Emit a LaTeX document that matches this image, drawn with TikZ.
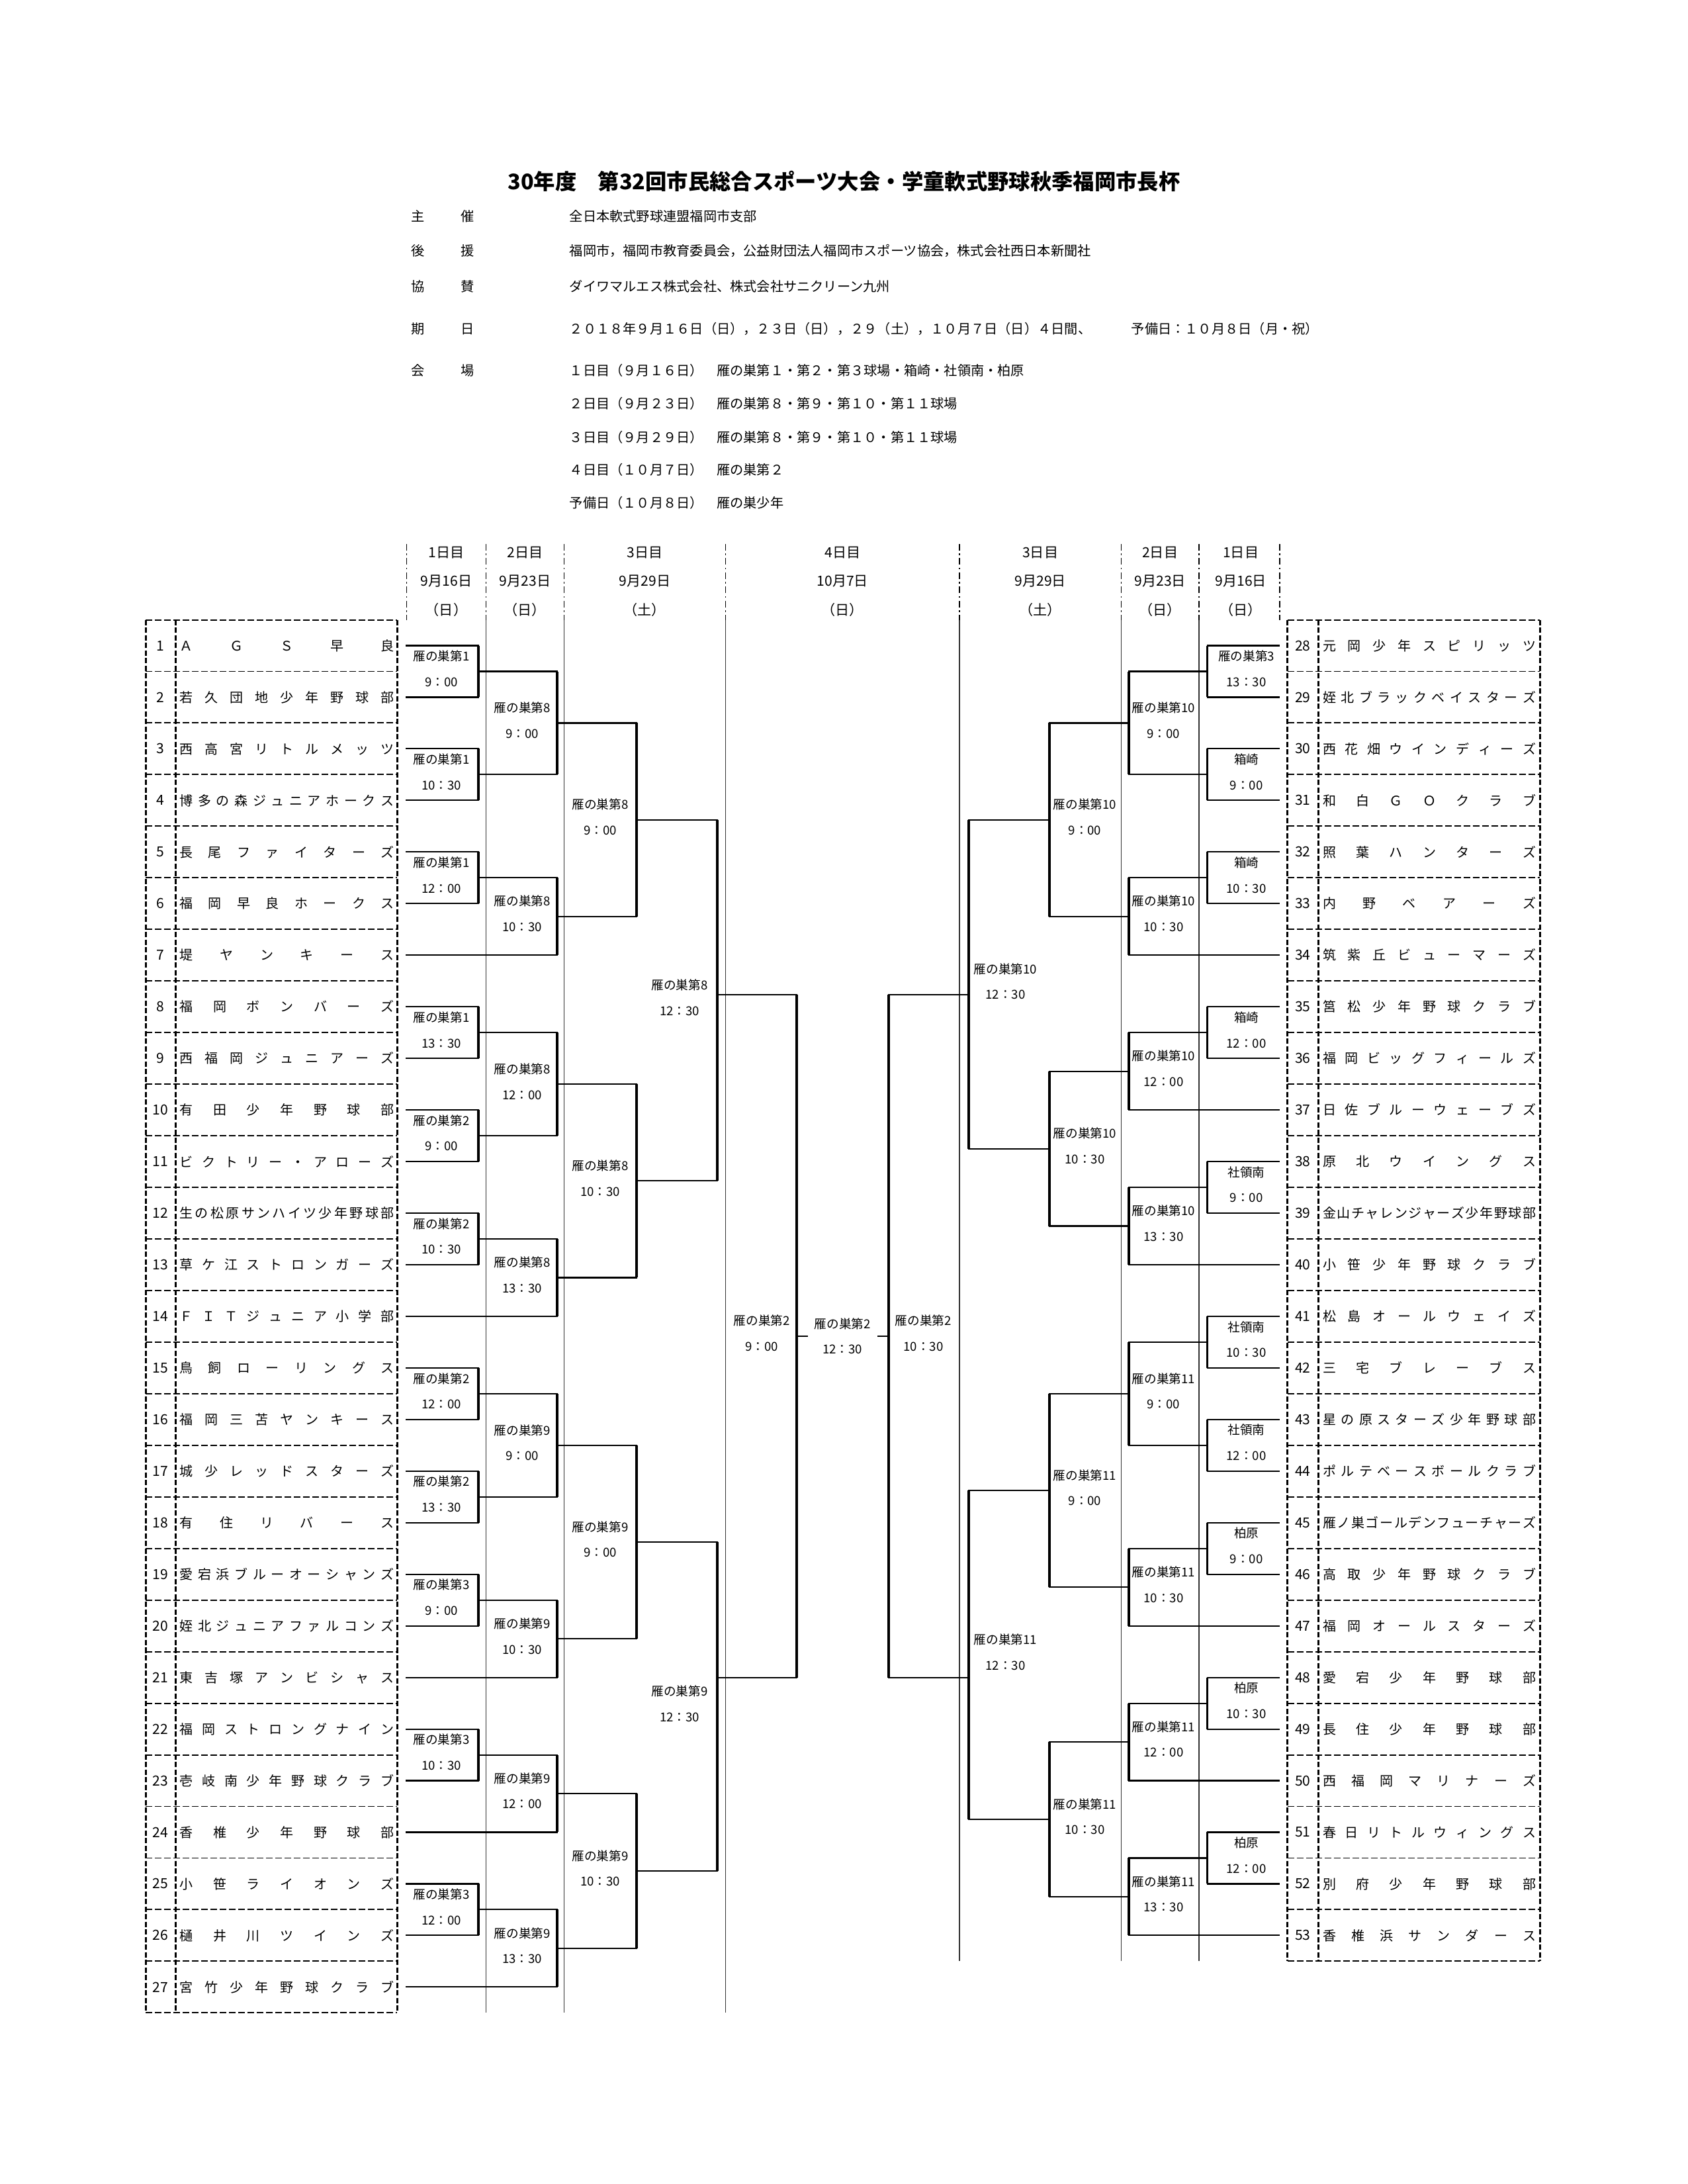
\documentclass[tikz,border=0pt]{standalone}
\usepackage{fontspec}
\setmainfont{Noto Sans CJK JP}
\usepackage{tikz}
\usetikzlibrary{calc}

\makeatletter
% spread a name over a fixed width, first and last character at the edges
\newcommand{\spreadname}[2]{%
  \edef\sp@tmp{#2}%
  \makebox[#1][s]{\expandafter\sp@loop\sp@tmp\@nil}}
\def\sp@loop#1{\ifx#1\@nil\unskip\else#1\hfil\expandafter\sp@loop\fi}
\makeatother

% one game: two feeders joined by a vertical, winner point in the middle
\newcommand{\game}[7]{%
  \draw[hline] (#1) -- (#1 -| #3) -- (#2 -| #3) -- (#2);
  \draw[vline] (#1 -| #3) -- (#2 -| #3);
  \coordinate (#4) at ($(#1 -| #3)!0.5!(#2 -| #3)$);
  \node[lbl] (#4-l) at ($(#4 -| #5)+(0,-2)$) {#6\\#7};}

\begin{document}
\begin{tikzpicture}[
    x=0.2104mm, y=-0.2104mm,
    hline/.style={line width=0.6pt},
    vline/.style={line width=1pt},
    divline/.style={line width=0.4pt, black!80},
    hdrline/.style={line width=0.4pt, dash pattern=on 1mm off 0.45mm on 0.25mm off 0.45mm},
    tblrow/.style={line width=0.55pt, dash pattern=on 1mm off 0.4mm},
    tblcol/.style={line width=0.8pt, dash pattern=on 0.8mm off 0.35mm},
    team/.style={inner sep=0pt, font=\fontsize{5.7}{6}\selectfont},
    num/.style={inner sep=0pt, font=\fontsize{6}{6}\selectfont},
    lbl/.style={inner sep=0pt, font=\fontsize{5.3}{11}\selectfont, align=center},
    day/.style={inner sep=0pt, font=\fontsize{6}{7}\selectfont},
    info/.style={inner sep=0pt, font=\fontsize{5.75}{7}\selectfont}
]
\path[use as bounding box, fill=white] (0,0) rectangle (1212,1568);

% Title
\node[inner sep=0pt, font=\fontsize{9.2}{11}\selectfont\bfseries] (title) at (606,130)
  {30年度　第32回市民総合スポーツ大会・学童軟式野球秋季福岡市長杯};

% Outline of the event
\foreach \i/\yy/\key/\txt in {
  1/155.2/主催/全日本軟式野球連盟福岡市支部,
  2/179.9/後援/福岡市，福岡市教育委員会，公益財団法人福岡市スポーツ協会，株式会社西日本新聞社,
  3/205.5/協賛/ダイワマルエス株式会社、株式会社サニクリーン九州,
  4/236.2/期日/２０１８年９月１６日（日），２３日（日），２９（土），１０月７日（日）４日間、　　　予備日：１０月８日（月・祝）,
  5/266.2/会場/１日目（９月１６日）　雁の巣第１・第２・第３球場・箱崎・社領南・柏原} {
  \node[info] (key\i) at (318,\yy) {\spreadname{9.47mm}{\key}};
  \node[info, anchor=west] (txt\i) at (408.7,\yy) {\txt};
}
\foreach \i/\yy/\txt in {
  6/289.7/２日目（９月２３日）　雁の巣第８・第９・第１０・第１１球場,
  7/313.8/３日目（９月２９日）　雁の巣第８・第９・第１０・第１１球場,
  8/337.3/４日目（１０月７日）　雁の巣第２,
  9/361.2/予備日（１０月８日）　雁の巣少年}
  \node[info, anchor=west] (txt\i) at (408.7,\yy) {\txt};

% Day columns (header)
\foreach \x in {292,349,405,521,689,805,861,919}
  \draw[hdrline] (\x,390.5) -- (\x,445);
\foreach \x in {349,405,521}
  \draw[divline] (\x,445) -- (\x,1445);
\foreach \x in {689,805,861}
  \draw[divline] (\x,445) -- (\x,1408);
\foreach \i/\x/\dnum/\ddate/\wkday in {1/320.5/1/9月16日/日, 2/377/2/9月23日/日, 3/463/3/9月29日/土,
    4/605/4/10月7日/日, 5/747/3/9月29日/土, 6/833/2/9月23日/日, 7/891/1/9月16日/日} {
  \node[day] (dn\i) at (\x,397) {\dnum 日目};
  \node[day] (dd\i) at (\x,417.3) {\ddate};
  \node[day] (dw\i) at (\x,438) {（\wkday）};
}

% Team tables (left 1-27, right 28-53)
\foreach \k in {0,...,27}
  \draw[tblrow] (104.6,{445+37.04*\k}) -- (285.2,{445+37.04*\k});
\foreach \x in {104.6,126,285.2}
  \draw[tblcol] (\x,445) -- (\x,1445);
\foreach \k in {0,...,26}
  \draw[tblrow] (924.4,{445+37.04*\k}) -- (1105.8,{445+37.04*\k});
\foreach \x in {924.4,946.6,1105.8}
  \draw[tblcol] (\x,445) -- (\x,1408);

\foreach \n/\tname in {1/ＡＧＳ早良, 2/若久団地少年野球部, 3/西高宮リトルメッツ,
    4/博多の森ジュニアホークス, 5/長尾ファイターズ, 6/福岡早良ホークス, 7/堤ヤンキース,
    8/福岡ボンバーズ, 9/西福岡ジュニアーズ, 10/有田少年野球部, 11/ビクトリー・アローズ,
    12/生の松原サンハイツ少年野球部, 13/草ケ江ストロンガーズ, 14/ＦＩＴジュニア小学部,
    15/鳥飼ローリングス, 16/福岡三苫ヤンキース, 17/城少レッドスターズ, 18/有住リバース,
    19/愛宕浜ブルーオーシャンズ, 20/姪北ジュニアファルコンズ, 21/東吉塚アンビシャス,
    22/福岡ストロングナイン, 23/壱岐南少年野球クラブ, 24/香椎少年野球部,
    25/小笹ライオンズ, 26/樋井川ツインズ, 27/宮竹少年野球クラブ} {
  \node[num] (no\n) at (115.3,{445+37.04*(\n-0.5)}) {\n};
  \node[team] (tn\n) at (206,{445+37.04*(\n-0.5)}) {\spreadname{32.4mm}{\tname}};
  \coordinate (a\n) at (291.5,{445+37.04*(\n-0.5)});
}
\foreach \n/\tname in {28/元岡少年スピリッツ, 29/姪北ブラックベイスターズ, 30/西花畑ウインディーズ,
    31/和白ＧＯクラブ, 32/照葉ハンターズ, 33/内野ベアーズ, 34/筑紫丘ビューマーズ,
    35/筥松少年野球クラブ, 36/福岡ビッグフィールズ, 37/日佐ブルーウェーブズ,
    38/原北ウイングス, 39/金山チャレンジャーズ少年野球部, 40/小笹少年野球クラブ,
    41/松島オールウェイズ, 42/三宅ブレーブス, 43/星の原スターズ少年野球部,
    44/ポルテベースボールクラブ, 45/雁ノ巣ゴールデンフューチャーズ, 46/高取少年野球クラブ,
    47/福岡オールスターズ, 48/愛宕少年野球部, 49/長住少年野球部, 50/西福岡マリナーズ,
    51/春日リトルウィングス, 52/別府少年野球部, 53/香椎浜サンダース} {
  \node[num] (no\n) at (935.5,{445+37.04*(\n-27.5)}) {\n};
  \node[team] (tn\n) at (1026.4,{445+37.04*(\n-27.5)}) {\spreadname{32.2mm}{\tname}};
  \coordinate (a\n) at (918.8,{445+37.04*(\n-27.5)});
}

% Bracket columns and label columns
\coordinate (cl1) at (343.5,0); \coordinate (cl2) at (400,0); \coordinate (cl3) at (457,0);
\coordinate (cl4) at (515,0); \coordinate (cl5) at (572,0);
\coordinate (cr1) at (867,0); \coordinate (cr2) at (810.5,0); \coordinate (cr3) at (753.5,0);
\coordinate (cr4) at (695.5,0); \coordinate (cr5) at (638,0);
\coordinate (ll1) at (317,0); \coordinate (ll2) at (375,0); \coordinate (ll3) at (431,0);
\coordinate (ll4) at (488,0); \coordinate (ll5) at (547,0);
\coordinate (lr1) at (895,0); \coordinate (lr2) at (835.5,0); \coordinate (lr3) at (779,0);
\coordinate (lr4) at (722,0); \coordinate (lr5) at (663,0);

% Left half, day 1
\game{a1}{a2}{cl1}{l1a}{ll1}{雁の巣第1}{9：00}
\game{a3}{a4}{cl1}{l1b}{ll1}{雁の巣第1}{10：30}
\game{a5}{a6}{cl1}{l1c}{ll1}{雁の巣第1}{12：00}
\game{a8}{a9}{cl1}{l1d}{ll1}{雁の巣第1}{13：30}
\game{a10}{a11}{cl1}{l1e}{ll1}{雁の巣第2}{9：00}
\game{a12}{a13}{cl1}{l1f}{ll1}{雁の巣第2}{10：30}
\game{a15}{a16}{cl1}{l1g}{ll1}{雁の巣第2}{12：00}
\game{a17}{a18}{cl1}{l1h}{ll1}{雁の巣第2}{13：30}
\game{a19}{a20}{cl1}{l1i}{ll1}{雁の巣第3}{9：00}
\game{a22}{a23}{cl1}{l1j}{ll1}{雁の巣第3}{10：30}
\game{a25}{a26}{cl1}{l1k}{ll1}{雁の巣第3}{12：00}
% Left half, day 2
\game{l1a}{l1b}{cl2}{l2a}{ll2}{雁の巣第8}{9：00}
\game{l1c}{a7}{cl2}{l2b}{ll2}{雁の巣第8}{10：30}
\game{l1d}{l1e}{cl2}{l2c}{ll2}{雁の巣第8}{12：00}
\game{l1f}{a14}{cl2}{l2d}{ll2}{雁の巣第8}{13：30}
\game{l1g}{l1h}{cl2}{l2e}{ll2}{雁の巣第9}{9：00}
\game{l1i}{a21}{cl2}{l2f}{ll2}{雁の巣第9}{10：30}
\game{l1j}{a24}{cl2}{l2g}{ll2}{雁の巣第9}{12：00}
\game{l1k}{a27}{cl2}{l2h}{ll2}{雁の巣第9}{13：30}
% Left half, day 3
\game{l2a}{l2b}{cl3}{l3a}{ll3}{雁の巣第8}{9：00}
\game{l2c}{l2d}{cl3}{l3b}{ll3}{雁の巣第8}{10：30}
\game{l2e}{l2f}{cl3}{l3c}{ll3}{雁の巣第9}{9：00}
\game{l2g}{l2h}{cl3}{l3d}{ll3}{雁の巣第9}{10：30}
\game{l3a}{l3b}{cl4}{l4a}{ll4}{雁の巣第8}{12：30}
\game{l3c}{l3d}{cl4}{l4b}{ll4}{雁の巣第9}{12：30}

% Right half, day 1
\game{a28}{a29}{cr1}{r1a}{lr1}{雁の巣第3}{13：30}
\game{a30}{a31}{cr1}{r1b}{lr1}{箱崎}{9：00}
\game{a32}{a33}{cr1}{r1c}{lr1}{箱崎}{10：30}
\game{a35}{a36}{cr1}{r1d}{lr1}{箱崎}{12：00}
\game{a38}{a39}{cr1}{r1e}{lr1}{社領南}{9：00}
\game{a41}{a42}{cr1}{r1f}{lr1}{社領南}{10：30}
\game{a43}{a44}{cr1}{r1g}{lr1}{社領南}{12：00}
\game{a45}{a46}{cr1}{r1h}{lr1}{柏原}{9：00}
\game{a48}{a49}{cr1}{r1i}{lr1}{柏原}{10：30}
\game{a51}{a52}{cr1}{r1j}{lr1}{柏原}{12：00}
% Right half, day 2
\game{r1a}{r1b}{cr2}{r2a}{lr2}{雁の巣第10}{9：00}
\game{r1c}{a34}{cr2}{r2b}{lr2}{雁の巣第10}{10：30}
\game{r1d}{a37}{cr2}{r2c}{lr2}{雁の巣第10}{12：00}
\game{r1e}{a40}{cr2}{r2d}{lr2}{雁の巣第10}{13：30}
\game{r1f}{r1g}{cr2}{r2e}{lr2}{雁の巣第11}{9：00}
\game{r1h}{a47}{cr2}{r2f}{lr2}{雁の巣第11}{10：30}
\game{r1i}{a50}{cr2}{r2g}{lr2}{雁の巣第11}{12：00}
\game{r1j}{a53}{cr2}{r2h}{lr2}{雁の巣第11}{13：30}
% Right half, day 3
\game{r2a}{r2b}{cr3}{r3a}{lr3}{雁の巣第10}{9：00}
\game{r2c}{r2d}{cr3}{r3b}{lr3}{雁の巣第10}{10：30}
\game{r2e}{r2f}{cr3}{r3c}{lr3}{雁の巣第11}{9：00}
\game{r2g}{r2h}{cr3}{r3d}{lr3}{雁の巣第11}{10：30}
\game{r3a}{r3b}{cr4}{r4a}{lr4}{雁の巣第10}{12：30}
\game{r3c}{r3d}{cr4}{r4b}{lr4}{雁の巣第11}{12：30}

% Day 4: semifinals and final
\coordinate (yTop) at (0,714); \coordinate (yBot) at (0,1204.3);
\coordinate (lsT) at (l4a |- yTop); \coordinate (lsB) at (l4b |- yBot);
\coordinate (rsT) at (r4a |- yTop); \coordinate (rsB) at (r4b |- yBot);
\game{lsT}{lsB}{cl5}{lsf}{ll5}{雁の巣第2}{9：00}
\game{rsT}{rsB}{cr5}{rsf}{lr5}{雁の巣第2}{10：30}
\node[lbl, minimum width=10.3mm] (fin) at ($(lsf)!0.5!(rsf)$) {雁の巣第2\\12：30};
\draw[hline] (lsf) -- (fin.west);
\draw[hline] (rsf) -- (fin.east);

\end{tikzpicture}
\end{document}
